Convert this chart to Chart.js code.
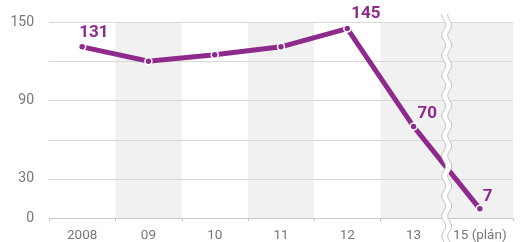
<!DOCTYPE html>
<html>
<head>
<meta charset="utf-8">
<script src="https://cdn.jsdelivr.net/npm/chart.js@4/dist/chart.umd.min.js"></script>
<style>
  body { margin: 0; background: #fff; }
  canvas { display: block; }
</style>
</head>
<body>
<canvas id="myChart" width="522" height="242"></canvas>
<script>
// データ
const labels = ['2008', '09', '10', '11', '12', '13', '15 (plán)'];
const values = [131, 120, 125, 131, 145, 70, 7];
const shownLabels = [131, null, null, null, 145, 70, 7];
const yTickLabels = [0, 30, 90, 150];
const shaded = [false, true, false, true, false, true, true];

const purple = '#8f2a8d';
const font = '"Roboto", sans-serif';

// 背景の縦の帯
const bandPlugin = {
  id: 'bands',
  beforeDatasetsDraw(chart) {
    const { ctx, chartArea, scales } = chart;
    const x = scales.x;
    const w = x.getPixelForValue(1) - x.getPixelForValue(0);
    ctx.save();
    ctx.fillStyle = '#f1f1f1';
    shaded.forEach((s, i) => {
      if (!s) return;
      const cx = x.getPixelForValue(i);
      ctx.fillRect(cx - w / 2, chartArea.top, w, chartArea.bottom - chartArea.top);
    });
    // グリッド線
    ctx.strokeStyle = '#d8d8d8';
    ctx.lineWidth = 1;
    [30, 60, 90, 120, 150].forEach(v => {
      const y = Math.round(scales.y.getPixelForValue(v)) + 0.5;
      ctx.beginPath();
      ctx.moveTo(chartArea.left, y);
      ctx.lineTo(chartArea.right, y);
      ctx.stroke();
    });
    ctx.strokeStyle = '#c8c8c8';
    const y0 = Math.round(scales.y.getPixelForValue(0)) + 0.5;
    ctx.beginPath();
    ctx.moveTo(chartArea.left, y0);
    ctx.lineTo(chartArea.right, y0);
    ctx.stroke();
    for (let i = 0; i <= labels.length; i++) {
      const bx = Math.round(x.getPixelForValue(i) - w / 2) + 0.5;
      ctx.beginPath();
      ctx.moveTo(bx, y0);
      ctx.lineTo(bx, y0 + 3);
      ctx.stroke();
    }
    ctx.restore();
  }
};

// 波線（軸の省略）と数値ラベル
const topPlugin = {
  id: 'topStuff',
  afterDatasetsDraw(chart) {
    const { ctx, scales } = chart;
    const x = scales.x;
    const bx = (x.getPixelForValue(5) + x.getPixelForValue(6)) / 2;
    ctx.save();
    const wave = (off) => {
      ctx.beginPath();
      for (let y = 14; y <= 242; y += 1) {
        const xx = bx + off + Math.sin(y / 3.2) * 2;
        if (y === 14) ctx.moveTo(xx, y); else ctx.lineTo(xx, y);
      }
    };
    ctx.strokeStyle = '#fff';
    ctx.lineWidth = 6;
    wave(0);
    ctx.stroke();
    ctx.strokeStyle = '#c4c4c4';
    ctx.lineWidth = 1;
    wave(-3);
    ctx.stroke();
    wave(3);
    ctx.stroke();

    const meta = chart.getDatasetMeta(0);
    ctx.fillStyle = purple;
    ctx.font = 'bold 17px ' + font;
    ctx.textAlign = 'left';
    ctx.textBaseline = 'bottom';
    const offs = [[-3, -6], null, null, null, [4, -6], [4, -4], [3, -4]];
    shownLabels.forEach((v, i) => {
      if (v === null) return;
      const p = meta.data[i];
      ctx.fillText(String(v), p.x + offs[i][0], p.y + offs[i][1]);
    });
    ctx.restore();
  }
};

const ctx = document.getElementById('myChart').getContext('2d');
new Chart(ctx, {
  type: 'line',
  data: {
    labels: labels,
    datasets: [{
      data: values,
      borderColor: purple,
      borderWidth: 5,
      pointRadius: 3.5,
      pointBackgroundColor: purple,
      pointBorderColor: '#fff',
      pointBorderWidth: 1.5,
      tension: 0,
      clip: false
    }]
  },
  options: {
    responsive: false,
    animation: false,
    layout: { padding: { top: 22, right: 9, left: 0, bottom: 0 } },
    scales: {
      x: {
        offset: true,
        grid: { display: false },
        border: { display: false },
        ticks: { color: '#777', font: { family: font, size: 13.5 }, padding: 2, maxRotation: 0 },
        afterFit: (s) => { s.height = 24; }
      },
      y: {
        min: 0,
        max: 150,
        grid: { display: false },
        border: { display: false },
        ticks: {
          stepSize: 30,
          color: '#777',
          font: { family: font, size: 14 },
          padding: 7,
          callback: (v) => yTickLabels.includes(v) ? v : ''
        },
        afterFit: (s) => { s.width = 49; }
      }
    },
    plugins: {
      legend: { display: false },
      tooltip: { enabled: false }
    }
  },
  plugins: [bandPlugin, topPlugin]
});
</script>
</body>
</html>
